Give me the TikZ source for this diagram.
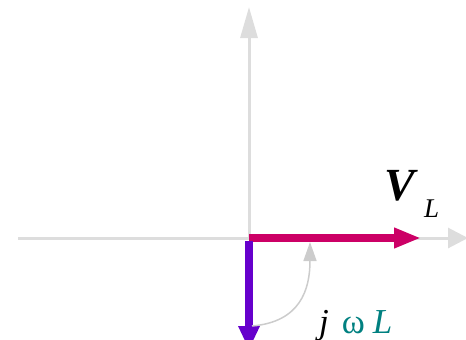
\documentclass[tikz,border=0pt]{standalone}
\usepackage{fontspec}
\setmainfont{Liberation Serif}
\usetikzlibrary{arrows.meta}
\definecolor{axisgray}{HTML}{DDDDDD}
\definecolor{curvegray}{HTML}{CCCCCC}
\definecolor{vmag}{HTML}{CC0066}
\definecolor{ipurple}{HTML}{6600CC}
\definecolor{wteal}{HTML}{008080}
\tikzset{
  axis/.style={axisgray, line width=3pt, -{Triangle[length=20pt,width=20pt]}},
  phasor/.style={line width=7.5pt, -{Triangle[length=27pt,width=19pt]}},
  rot/.style={curvegray, line width=1.5pt, -{Triangle[length=19pt,width=13pt]}},
  lbl/.style={inner sep=0pt}
}
\begin{document}
\begin{tikzpicture}[x=1pt,y=-1pt]
\useasboundingbox (0,0) rectangle (466,340);
\coordinate (O) at (249,238);
\coordinate (xl) at (18,238);
\coordinate (xr) at (468,238);
\coordinate (yt) at (249,7);
\coordinate (vl) at (421,238);
\coordinate (il) at (249,350);
\coordinate (cs) at (252,326);
\coordinate (ce) at (310,242);
\draw[axis] (xl) -- (xr);
\draw[axis,-{Triangle[length=31pt,width=17pt]}] (O) -- (yt);
\draw[phasor, vmag] (O) -- (vl);
\draw[ipurple, line width=7.5pt, -{Triangle[length=24pt,width=20pt]}] ([yshift=-3pt]O) -- (il);
\draw[rot] (cs) .. controls (300,322) and (310,290) .. (ce);
\node[lbl, anchor=base west, font=\fontsize{46}{46}\selectfont\bfseries\itshape] (V) at (384,200) {V};
\node[lbl, anchor=base west, font=\fontsize{27}{27}\selectfont\itshape] (L) at (424,217) {L};
\node[lbl, anchor=base west, font=\fontsize{35}{35}\selectfont] (jwl) at (319,333) {\textit{j}\hspace{13pt}\textcolor{wteal}{ω\hspace{8pt}\textit{L}}};
\end{tikzpicture}
\end{document}
